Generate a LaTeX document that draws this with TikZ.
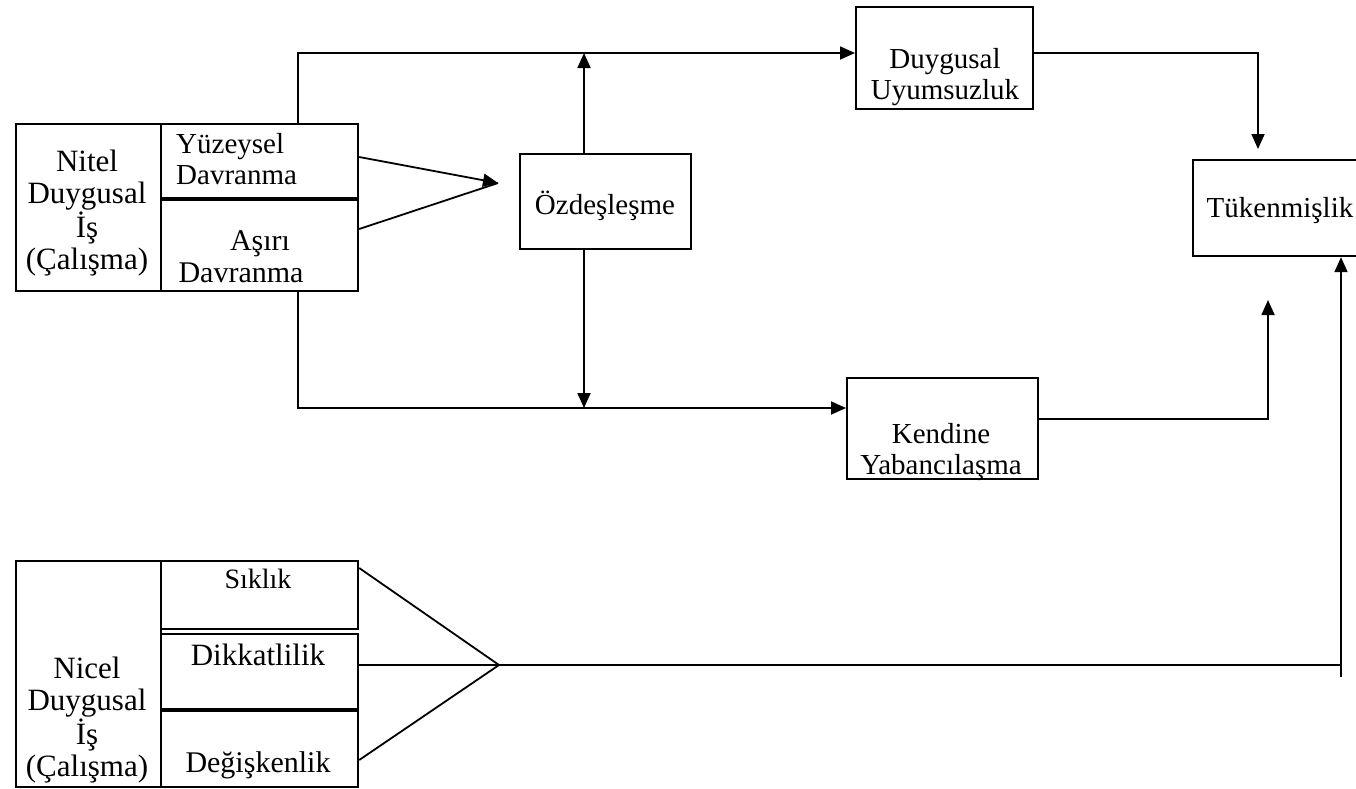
\documentclass[tikz,border=0pt]{standalone}
\usepackage{fontspec}
\setmainfont{Liberation Serif}
\usetikzlibrary{arrows.meta}
\begin{document}
\begin{tikzpicture}[x=1pt,y=-1pt,
  frame/.style={draw, line width=2.2pt, rectangle, inner sep=0pt, anchor=north west},
  lbl/.style={font=\fontsize{29}{31}\selectfont, align=center, inner sep=0pt},
  big/.style={font=\fontsize{31}{32}\selectfont},
  conn/.style={line width=1.8pt},
  arr/.style={conn, -{Triangle[length=15pt,width=13pt]}},
]
\useasboundingbox (0,0) rectangle (1356,788);

% top-left group
\node[frame, minimum width=145pt, minimum height=167pt] (nitel) at (15,123) {};
\node[frame, minimum width=197pt, minimum height=74pt] (yuz) at (160,123) {};
\node[frame, minimum width=197pt, minimum height=93pt] (asi) at (160,197) {};
\draw[line width=4pt] (yuz.south west) -- (yuz.south east);
\node[lbl, big] (nitelt) at (87,213) {Nitel\\Duygusal\\İş\\(Çalışma)};
\node[lbl, align=left, anchor=west] (yuzt) at (176,159) {Yüzeysel\\Davranma};
\node[lbl, font=\fontsize{30}{32}\selectfont] (asit) at (241,257) {\hspace*{38pt}Aşırı\\Davranma};

% bottom-left group
\node[frame, minimum width=145pt, minimum height=226pt] (nicel) at (15,560) {};
\node[frame, minimum width=197pt, minimum height=68pt] (sik) at (160,560) {};
\node[frame, minimum width=197pt, minimum height=77pt] (dik) at (160,633) {};
\node[frame, minimum width=197pt, minimum height=76pt] (deg) at (160,710) {};
\draw[line width=4pt] (160,710) -- (357,710);
\node[lbl, big] (nicelt) at (87,720) {Nicel\\Duygusal\\İş\\(Çalışma)};
\node[lbl, font=\fontsize{28}{31}\selectfont] (sikt) at (258,579) {Sıklık};
\node[lbl, font=\fontsize{31}{33}\selectfont] (dikt) at (258,655) {Dikkatlilik};
\node[lbl, font=\fontsize{30}{31}\selectfont] (degt) at (258,765) {Değişkenlik};

% middle and right boxes
\node[frame, minimum width=171pt, minimum height=95pt] (ozd) at (519,153) {};
\node[lbl] (ozdt) at (605,206) {Özdeşleşme};
\node[frame, minimum width=177pt, minimum height=102pt] (duy) at (855,6) {};
\node[lbl] (duyt) at (945,77) {Duygusal\\Uyumsuzluk};
\node[frame, minimum width=190pt, minimum height=96pt] (tuk) at (1192,159) {};
\node[lbl] (tukt) at (1280,211) {Tükenmişlik};
\node[frame, minimum width=191pt, minimum height=101pt] (ken) at (846,377) {};
\node[lbl] (kent) at (941,452) {Kendine\\Yabancılaşma};

% coordinates
\coordinate (topL) at (298,53);
\coordinate (botL) at (298,408);
\coordinate (joinA) at (498,183);
\coordinate (ozdUp) at (584,53);
\coordinate (ozdDn) at (584,408);
\coordinate (duyR) at (1258,53);
\coordinate (kenR) at (1268,419);
\coordinate (joinB) at (499,665);
\coordinate (rightB) at (1341,665);
\coordinate (rightEnd) at (1341,677);

% connectors
\draw[arr] (yuz.north -| topL) -- (topL) -- (duy.west |- topL);
\draw[arr] (asi.south -| botL) -- (botL) -- (ken.west |- botL);
\draw[arr] (yuz.east |- 0,157) -- (joinA);
\draw[conn] (asi.east |- 0,229) -- (joinA);
\draw[arr] (ozd.north -| ozdUp) -- (ozdUp);
\draw[arr] (ozd.south -| ozdDn) -- (ozdDn);
\draw[arr] (duy.east |- duyR) -- (duyR) -- (1258,149);
\draw[arr] (ken.east |- kenR) -- (kenR) -- (1268,300);
\draw[conn] (sik.east |- 0,568) -- (joinB);
\draw[conn] (dik.east |- joinB) -- (joinB);
\draw[conn] (deg.east |- 0,760) -- (joinB);
\draw[conn] (joinB) -- (rightB);
\draw[arr] (rightEnd) -- (tuk.south -| rightB);
\end{tikzpicture}
\end{document}
